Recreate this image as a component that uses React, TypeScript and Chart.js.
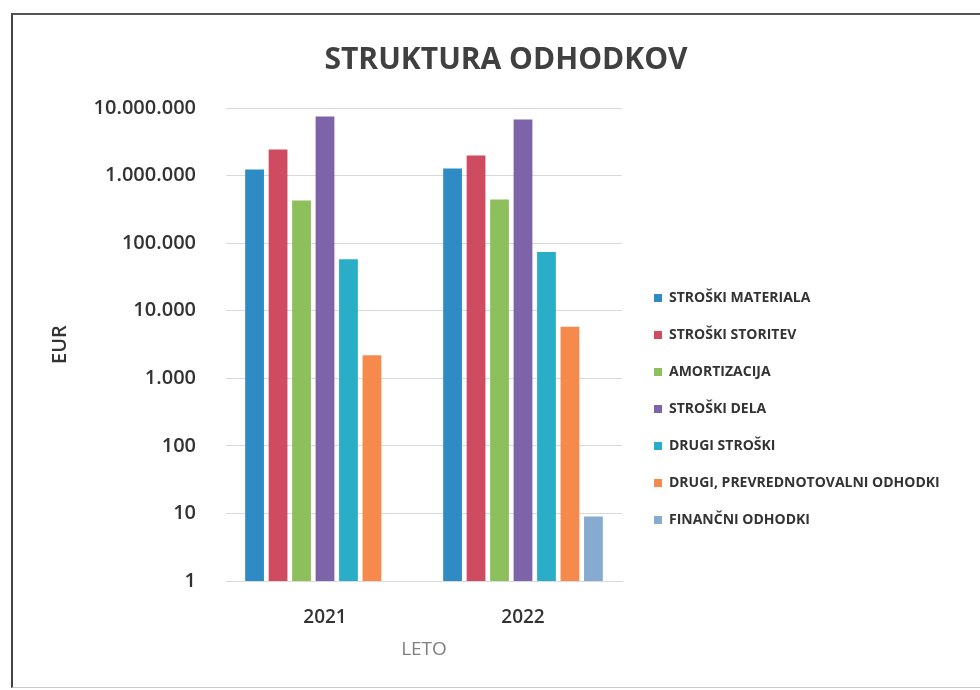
import React, { useEffect, useRef } from "react";
import { Chart, registerables } from "chart.js";

Chart.register(...registerables);

// ---- data ----
const categories = ["2021", "2022"];
const seriesNames = [
  "STROŠKI MATERIALA",
  "STROŠKI STORITEV",
  "AMORTIZACIJA",
  "STROŠKI DELA",
  "DRUGI STROŠKI",
  "DRUGI, PREVREDNOTOVALNI ODHODKI",
  "FINANČNI ODHODKI",
];
const strMateriala = [1230000, 1270000];
const strStoritev = [2430000, 1980000];
const amortizacija = [427000, 441000];
const strDela = [7470000, 6730000];
const drugiStroski = [58000, 74000];
const prevrednotovalni = [2200, 5800];
const financni = [null, 9];
const yTicks = [1, 10, 100, 1000, 10000, 100000, 1000000, 10000000];

const seriesData = [strMateriala, strStoritev, amortizacija, strDela, drugiStroski, prevrednotovalni, financni];
const colors = ["#2f8bc4", "#cf4b60", "#8dc05c", "#7d64a8", "#2aaec8", "#f58a4c", "#86aad0"];

const FONT = "'Open Sans', 'DejaVu Sans', sans-serif";

function fmt(v: number): string {
  return String(v).replace(/\B(?=(\d{3})+(?!\d))/g, ".");
}

const LEGEND_WIDTH = 348;
const LEGEND_DX = 9;
const LEGEND_DY = 62;

const placeBoxes = {
  id: "placeBoxes",
  beforeLayout(chart: any) {
    const lg = chart.legend;
    if (lg && !lg.__patched) {
      const orig = lg.fit.bind(lg);
      lg.fit = () => {
        orig();
        lg.width = LEGEND_WIDTH;
      };
      lg.__patched = true;
    }
  },
  afterLayout(chart: any) {
    const lg = chart.legend;
    if (!lg) return;
    lg.left += LEGEND_DX;
    lg.right += LEGEND_DX;
    lg.top += LEGEND_DY;
    lg.bottom += LEGEND_DY;
  },
};

export default function App() {
  const ref = useRef<HTMLCanvasElement | null>(null);

  useEffect(() => {
    if (!ref.current) return;
    const chart = new Chart(ref.current, {
      type: "bar",
      data: {
        labels: categories,
        datasets: seriesNames.map((name, i) => ({
          label: name,
          data: seriesData[i] as any,
          backgroundColor: colors[i],
          borderWidth: 0,
          barPercentage: 0.8,
          categoryPercentage: 0.83,
        })),
      },
      options: {
        responsive: false,
        animation: false,
        layout: { padding: { left: 42, right: 10, top: 14, bottom: 10 } },
        plugins: {
          title: {
            display: true,
            text: "STRUKTURA ODHODKOV",
            color: "#404040",
            font: { family: FONT, size: 30, weight: "bold" },
            padding: { top: 28, bottom: 30 },
          },
          legend: {
            position: "right",
            labels: {
              boxWidth: 8,
              boxHeight: 8,
              padding: 23,
              color: "#333333",
              font: { family: FONT, size: 14, weight: "bold" },
            },
          },
          tooltip: { enabled: false },
        },
        scales: {
          x: {
            grid: { display: false },
            border: { display: true, color: "#d9d9d9" },
            ticks: {
              color: "#333333",
              padding: 17,
              font: { family: FONT, size: 19, weight: "600" },
            },
            title: {
              display: true,
              text: "LETO",
              color: "#808080",
              font: { family: FONT, size: 19 },
              padding: { top: 4, bottom: 19 },
            },
            afterFit: (s: any) => {
              s.height = 99;
            },
          },
          y: {
            type: "logarithmic",
            min: 1,
            max: 10000000,
            grid: { color: "#d9d9d9", drawTicks: false },
            border: { display: false },
            afterBuildTicks: (s: any) => {
              s.ticks = yTicks.map((v) => ({ value: v }));
            },
            ticks: {
              padding: 30,
              color: "#333333",
              font: { family: FONT, size: 20, weight: "600" },
              callback: (v: any) => fmt(Number(v)),
            },
            title: {
              display: true,
              text: "EUR",
              color: "#333333",
              font: { family: FONT, size: 20, weight: "600" },
              padding: { top: 6, bottom: 4 },
            },
            afterFit: (s: any) => {
              s.width = 184;
            },
          },
        },
      },
      plugins: [placeBoxes],
    } as any);
    return () => chart.destroy();
  }, []);

  return (
    <div style={{ position: "fixed", left: 0, top: 0, width: 980, height: 690, background: "#ffffff", overflow: "hidden" }}>
      <div
        style={{
          position: "absolute",
          left: 11,
          top: 13,
          width: 975,
          height: 672,
          borderLeft: "2px solid #444444",
          borderTop: "2px solid #555555",
          borderBottom: "1px solid #c8c8c8",
        }}
      />
      <canvas ref={ref} width={980} height={690} style={{ position: "absolute", left: 0, top: 0 }} />
    </div>
  );
}
